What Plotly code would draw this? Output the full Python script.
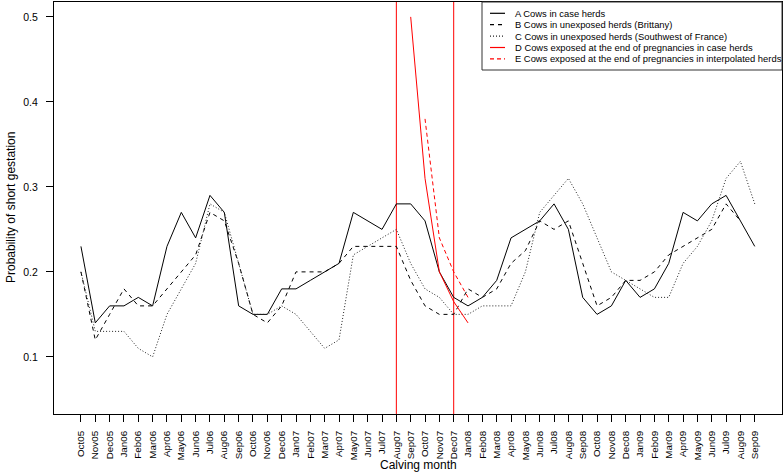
import plotly.graph_objects as go

# ---------------------------------------------------------------------------
# DATA
# ---------------------------------------------------------------------------

MONTHS = [
    "Oct05", "Nov05", "Dec05", "Jan06", "Feb06", "Mar06", "Apr06", "May06",
    "Jun06", "Jul06", "Aug06", "Sep06", "Oct06", "Nov06", "Dec06", "Jan07",
    "Feb07", "Mar07", "Apr07", "May07", "Jun07", "Jul07", "Aug07", "Sep07",
    "Oct07", "Nov07", "Dec07", "Jan08", "Feb08", "Mar08", "Apr08", "May08",
    "Jun08", "Jul08", "Aug08", "Sep08", "Oct08", "Nov08", "Dec08", "Jan09",
    "Feb09", "Mar09", "Apr09", "May09", "Jun09", "Jul09", "Aug09", "Sep09",
]

A_CASE = [
    0.23, 0.14, 0.16, 0.16, 0.17, 0.16, 0.23, 0.27, 0.24, 0.29, 0.27, 0.16,
    0.15, 0.15, 0.18, 0.18, 0.19, 0.20, 0.21, 0.27, 0.26, 0.25, 0.28, 0.28,
    0.26, 0.20, 0.17, 0.16, 0.17, 0.19, 0.24, 0.25, 0.26, 0.28, 0.25, 0.17,
    0.15, 0.16, 0.19, 0.17, 0.18, 0.21, 0.27, 0.26, 0.28, 0.29, 0.26, 0.23,
]

B_BRITTANY = [
    0.20, 0.12, 0.15, 0.18, 0.16, 0.16, 0.18, 0.20, 0.22, 0.27, 0.26, 0.21,
    0.15, 0.14, 0.16, 0.20, 0.20, 0.20, 0.21, 0.23, 0.23, 0.23, 0.23, 0.19,
    0.16, 0.15, 0.15, 0.18, 0.17, 0.18, 0.21, 0.225, 0.26, 0.25, 0.26, 0.21,
    0.16, 0.17, 0.19, 0.19, 0.20, 0.22, 0.23, 0.24, 0.25, 0.28, 0.26, None,
]

C_SOUTHWEST = [
    0.20, 0.13, 0.13, 0.13, 0.11, 0.10, 0.15, 0.18, 0.21, 0.28, 0.27, 0.21,
    0.15, 0.15, 0.16, 0.15, 0.13, 0.11, 0.12, 0.22, 0.23, 0.24, 0.25, 0.21,
    0.18, 0.17, 0.15, 0.15, 0.16, 0.16, 0.16, 0.20, 0.27, 0.29, 0.31, 0.28,
    0.24, 0.20, 0.19, 0.18, 0.17, 0.17, 0.21, 0.23, 0.26, 0.31, 0.33, 0.28,
]

D_MONTHS = ["Sep07", "Oct07", "Nov07", "Dec07", "Jan08"]
D_EXPOSED_CASE = [0.50, 0.31, 0.20, 0.165, 0.14]

E_MONTHS = ["Oct07", "Nov07", "Dec07", "Jan08"]
E_EXPOSED_INTERP = [0.38, 0.24, 0.20, 0.17]

EXPOSURE_LIMITS = ["Aug07", "Dec07"]

Y_TICKS = [0.1, 0.2, 0.3, 0.4, 0.5]

LEGEND_LABELS = [
    "A Cows in case herds",
    "B Cows in unexposed herds (Brittany)",
    "C Cows in unexposed herds (Southwest of France)",
    "D Cows exposed at the end of pregnancies in case herds",
    "E Cows exposed at the end of pregnancies in interpolated herds",
]

# ---------------------------------------------------------------------------
# STYLE
# ---------------------------------------------------------------------------

FONT = "Liberation Sans, Arial, sans-serif"
W, H = 784, 472
M_L, M_R, M_T, M_B = 54, 2, 2, 58

DASH_B = "4px,4px"
DASH_C = "1px,2px"
DASH_E = "4px,3px"

SERIES_STYLE = [
    dict(color="black", dash="solid"),
    dict(color="black", dash=DASH_B),
    dict(color="#222222", dash=DASH_C),
    dict(color="#ff0000", dash="solid"),
    dict(color="#ff0000", dash=DASH_E),
]


def px_x(px):
    return (px - M_L) / (W - M_L - M_R)


def px_y(py):
    return (H - M_B - py) / (H - M_T - M_B)


idx = {m: i for i, m in enumerate(MONTHS)}
x_all = list(range(len(MONTHS)))

fig = go.Figure()

series = [
    (x_all, A_CASE),
    (x_all, B_BRITTANY),
    (x_all, C_SOUTHWEST),
    ([idx[m] for m in D_MONTHS], D_EXPOSED_CASE),
    ([idx[m] for m in E_MONTHS], E_EXPOSED_INTERP),
]

for (xs, ys), st, name in zip(series, SERIES_STYLE, LEGEND_LABELS):
    fig.add_trace(go.Scatter(
        x=xs, y=ys,
        mode="lines",
        name=name,
        line=dict(color=st["color"], width=1, dash=st["dash"]),
        connectgaps=False,
        showlegend=False,
    ))

# Vertical lines framing the exposure period
for m in EXPOSURE_LIMITS:
    fig.add_shape(
        type="line", xref="x", yref="paper",
        x0=idx[m], x1=idx[m], y0=0, y1=1,
        line=dict(color="#ff0000", width=1),
        layer="below",
    )

# Hand-drawn legend box (R style, compact rows)
fig.add_shape(
    type="rect", xref="paper", yref="paper",
    x0=px_x(482), x1=px_x(782), y0=px_y(70), y1=px_y(2),
    line=dict(color="#333333", width=1),
    fillcolor="white",
    layer="above",
)
row_y0, row_gap = 13.3, 11.4
for i, (label, st) in enumerate(zip(LEGEND_LABELS, SERIES_STYLE)):
    yy = px_y(row_y0 + i * row_gap)
    fig.add_shape(
        type="line", xref="paper", yref="paper",
        x0=px_x(490), x1=px_x(505), y0=yy, y1=yy,
        line=dict(color=st["color"], width=1.2, dash=st["dash"]),
        layer="above",
    )
    fig.add_annotation(
        xref="paper", yref="paper",
        x=px_x(513), y=yy,
        text=label, showarrow=False,
        xanchor="left", yanchor="middle",
        font=dict(family=FONT, size=9.4, color="black"),
    )

# Axis titles
fig.add_annotation(
    xref="paper", yref="paper", x=0.5, y=px_y(465),
    text="Calving month", showarrow=False,
    xanchor="center", yanchor="middle",
    font=dict(family=FONT, size=12, color="black"),
)
fig.add_annotation(
    xref="paper", yref="paper", x=px_x(11), y=0.5,
    text="Probability of short gestation", showarrow=False,
    textangle=-90, xanchor="center", yanchor="middle",
    font=dict(family=FONT, size=12, color="black"),
)

fig.update_layout(
    width=W, height=H,
    margin=dict(l=M_L, r=M_R, t=M_T, b=M_B),
    plot_bgcolor="white",
    paper_bgcolor="white",
    font=dict(family=FONT, color="black"),
    showlegend=False,
)

fig.update_xaxes(
    range=[-1.88, 48.9],
    tickmode="array",
    tickvals=x_all,
    ticktext=MONTHS,
    tickangle=-90,
    ticks="outside", ticklen=7, tickcolor="black", tickwidth=1,
    tickfont=dict(family=FONT, size=9.8, color="black"),
    ticklabelstandoff=5,
    showgrid=False, zeroline=False,
    showline=True, mirror=True, linecolor="black", linewidth=1,
    automargin=False,
)

fig.update_yaxes(
    range=[0.0328, 0.5175],
    tickmode="array",
    tickvals=Y_TICKS,
    ticktext=[f"{v:.1f}" for v in Y_TICKS],
    ticks="outside", ticklen=7, tickcolor="black", tickwidth=1,
    tickfont=dict(family=FONT, size=10.5, color="black"),
    ticklabelstandoff=6,
    showgrid=False, zeroline=False,
    showline=True, mirror=True, linecolor="black", linewidth=1,
    automargin=False,
)

# page body has an 8px default margin; drop it so the figure fills the window
fig.write_html(
    "out.html",
    config={"displayModeBar": False},
    post_script="document.body.style.margin='0';",
)
